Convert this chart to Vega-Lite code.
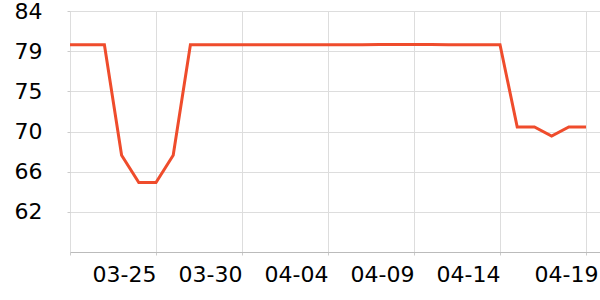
{
  "$schema": "https://vega.github.io/schema/vega-lite/v6.json",
  "width": 530,
  "height": 241,
  "autosize": {"type": "none"},
  "padding": {"left": 70, "top": 11, "right": 0, "bottom": 48},
  "background": "white",
  "config": {"view": {"stroke": null}, "font": "DejaVu Sans"},
  "data": {
    "values": [
      {"date": "2024-03-20", "value": 80.3},
      {"date": "2024-03-21", "value": 80.3},
      {"date": "2024-03-22", "value": 80.3},
      {"date": "2024-03-23", "value": 68.2},
      {"date": "2024-03-24", "value": 65.2},
      {"date": "2024-03-25", "value": 65.2},
      {"date": "2024-03-26", "value": 68.2},
      {"date": "2024-03-27", "value": 80.3},
      {"date": "2024-03-28", "value": 80.3},
      {"date": "2024-03-29", "value": 80.3},
      {"date": "2024-03-30", "value": 80.3},
      {"date": "2024-03-31", "value": 80.3},
      {"date": "2024-04-01", "value": 80.3},
      {"date": "2024-04-02", "value": 80.3},
      {"date": "2024-04-03", "value": 80.3},
      {"date": "2024-04-04", "value": 80.3},
      {"date": "2024-04-05", "value": 80.3},
      {"date": "2024-04-06", "value": 80.3},
      {"date": "2024-04-07", "value": 80.33},
      {"date": "2024-04-08", "value": 80.33},
      {"date": "2024-04-09", "value": 80.33},
      {"date": "2024-04-10", "value": 80.33},
      {"date": "2024-04-11", "value": 80.3},
      {"date": "2024-04-12", "value": 80.3},
      {"date": "2024-04-13", "value": 80.3},
      {"date": "2024-04-14", "value": 80.3},
      {"date": "2024-04-15", "value": 71.3},
      {"date": "2024-04-16", "value": 71.3},
      {"date": "2024-04-17", "value": 70.3},
      {"date": "2024-04-18", "value": 71.3},
      {"date": "2024-04-19", "value": 71.3}
    ]
  },
  "mark": {"type": "line", "color": "#ef4c2c", "strokeWidth": 3, "strokeJoin": "miter"},
  "encoding": {
    "x": {
      "field": "date",
      "type": "temporal",
      "scale": {"type": "utc", "domain": [{"year": 2024, "month": 3, "date": 20, "utc": true}, {"year": 2024, "month": 4, "date": 19, "hours": 19, "minutes": 30, "utc": true}]},
      "axis": {
        "title": null,
        "values": [
          {"year": 2024, "month": 3, "date": 20, "utc": true},
          {"year": 2024, "month": 3, "date": 25, "utc": true},
          {"year": 2024, "month": 3, "date": 30, "utc": true},
          {"year": 2024, "month": 4, "date": 4, "utc": true},
          {"year": 2024, "month": 4, "date": 9, "utc": true},
          {"year": 2024, "month": 4, "date": 14, "utc": true},
          {"year": 2024, "month": 4, "date": 19, "utc": true}
        ],
        "labelExpr": "utcdate(datum.value) == 20 ? '' : utcFormat(datum.value, '%m-%d')",
        "labelAlign": "right",
        "labelOffset": {"condition": {"test": "utcdate(datum.value) == 19", "value": 12}, "value": 0},
        "labelFontSize": 22,
        "labelColor": "#000000",
        "labelPadding": 9,
        "labelFlush": false,
        "labelOverlap": false,
        "tickSize": 3,
        "tickColor": "#cccccc",
        "domainColor": "#bbbbbb",
        "grid": true,
        "gridColor": "#dddddd"
      }
    },
    "y": {
      "field": "value",
      "type": "quantitative",
      "scale": {"domain": [57.6, 84], "nice": false, "zero": false},
      "axis": {
        "title": null,
        "values": [62, 66.4, 70.8, 75.2, 79.6, 84],
        "labelExpr": "floor(datum.value)",
        "labelFontSize": 22,
        "labelColor": "#000000",
        "labelPadding": 25,
        "tickSize": 3,
        "tickColor": "#cccccc",
        "domain": false,
        "grid": true,
        "gridColor": "#dddddd"
      }
    }
  }
}
